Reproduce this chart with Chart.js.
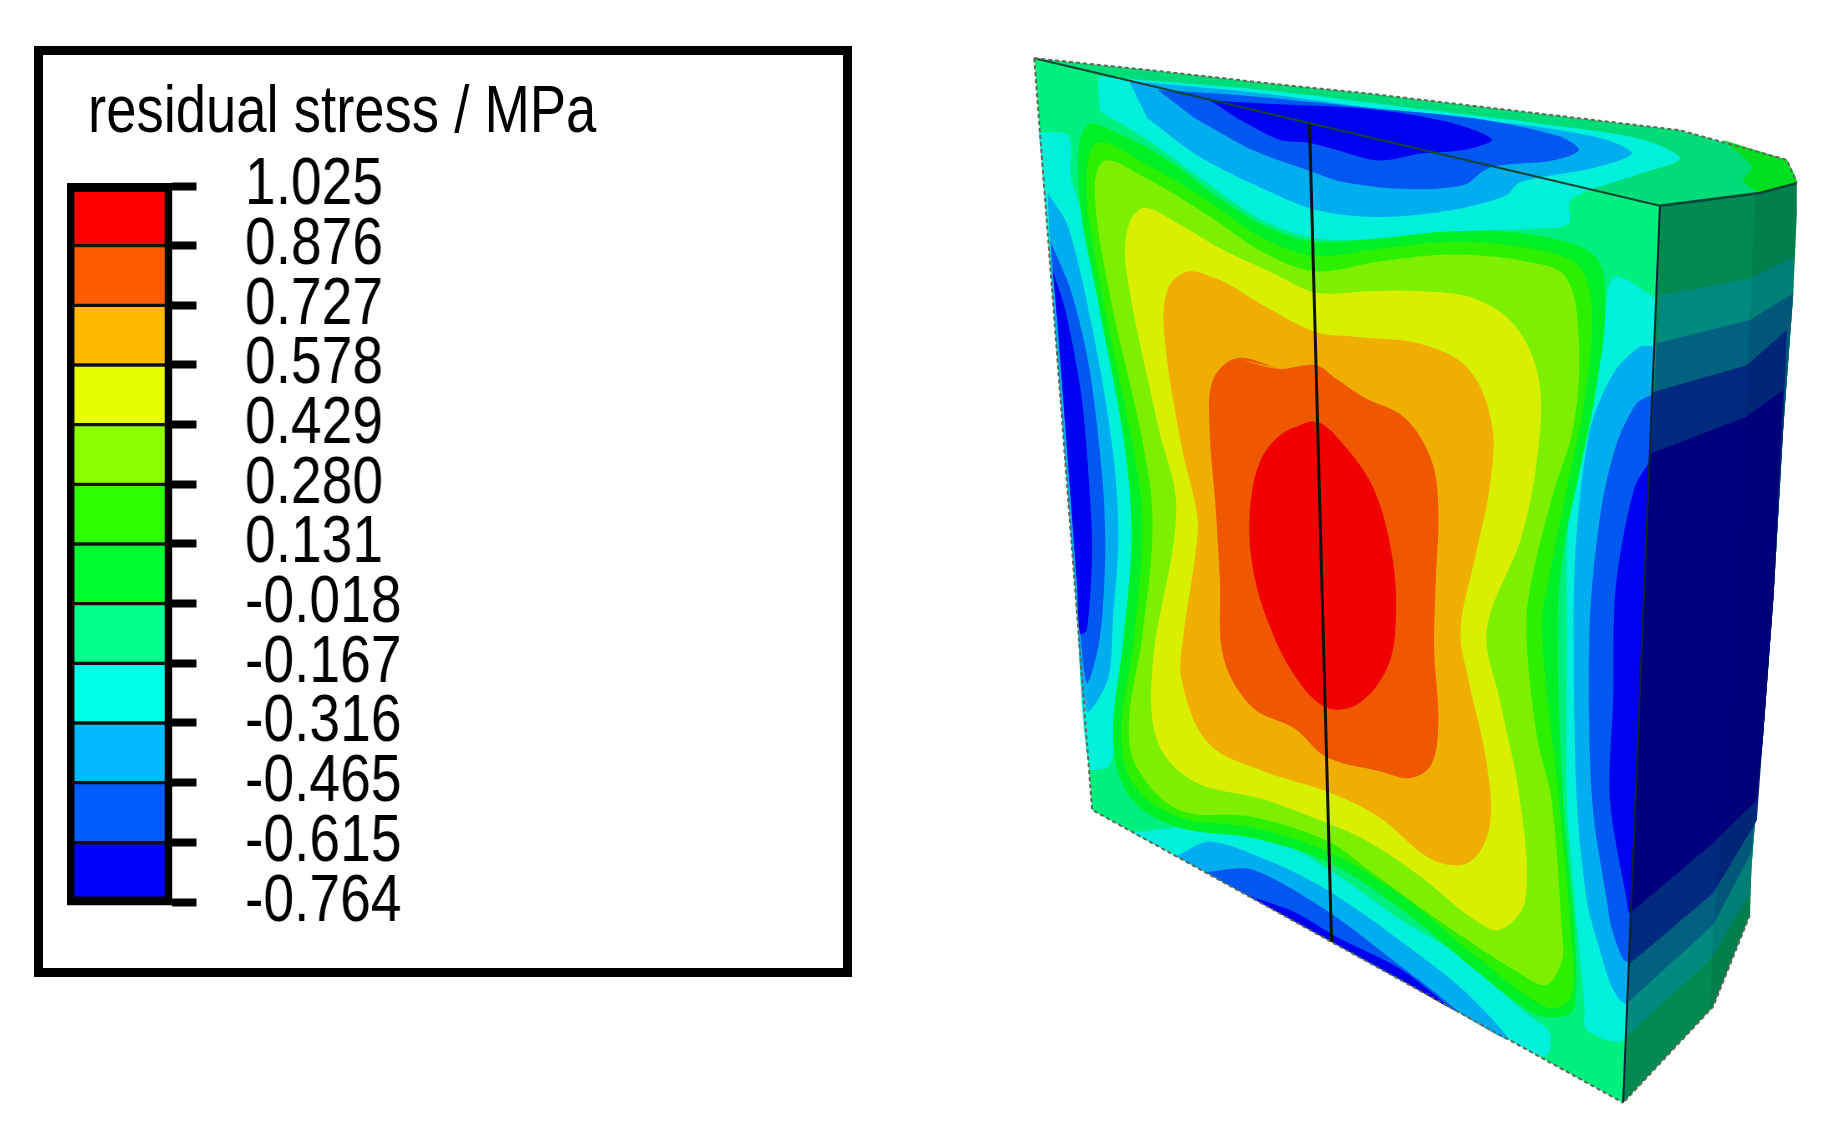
<!DOCTYPE html>
<html>
<head>
<meta charset="utf-8">
<title>residual stress</title>
<script src="https://cdn.jsdelivr.net/npm/chart.js@4"></script>
<style>
html, body { margin: 0; background: #fff; }
body { width: 1821px; height: 1131px; position: relative; overflow: hidden; }
#frame { position: absolute; left: 34px; top: 46px; width: 800px; height: 913px; border: 9px solid #000; }
#legendTitle { position: absolute; left: 88px; top: 71px; font: 66px/76px "Liberation Sans", sans-serif; color: #000; white-space: nowrap; transform: scaleX(0.825); transform-origin: left top; }
/* ラベルが細長い書体なので横方向だけ縮める */
#legendChart { position: absolute; left: 0; top: 0; transform: scaleX(0.836); transform-origin: left top; }
#modelChart { position: absolute; left: 1000px; top: 30px; filter: blur(0.7px); }
</style>
</head>
<body>
<div id="frame"></div>
<canvas id="legendChart" width="1000" height="1000"></canvas>
<div id="legendTitle">residual stress / MPa</div>
<canvas id="modelChart" width="821" height="1101"></canvas>
<script>
// legend
const legendLevels = [1.025, 0.876, 0.727, 0.578, 0.429, 0.280, 0.131, -0.018, -0.167, -0.316, -0.465, -0.615, -0.764];
const legendColors = ['#ff0000', '#ff5d00', '#ffb900', '#e8ff00', '#8bff00', '#2eff00', '#00ff2e', '#00ff8b', '#00ffe8', '#00b9ff', '#005dff', '#0000ff'];

// contour outlines
const topFace = [[65,40],[300,58],[540,78],[700,90],[1100,125],[1292,142],[1495,184],[1514,217],[1444,231],[1254,249]];
const topCorner = [[1374,156],[1429,194],[1412,213],[1444,231],[1514,217],[1495,184]];
const rightFace = [[1254,249],[1444,231],[1514,217],[1514,260],[1507,378],[1488,567],[1470,800],[1450,1000],[1438,1091],[1428,1186],[1425,1254],[1355,1384],[1184,1520]];
const rightBand1 = [[1254,376],[1425,352],[1507,322],[1507,378],[1488,567],[1470,800],[1450,1000],[1438,1091],[1428,1186],[1425,1223],[1349,1318],[1188,1427]];
const rightBand2 = [[1248,444],[1425,411],[1507,373],[1488,567],[1470,800],[1450,1000],[1438,1091],[1428,1165],[1355,1268],[1191,1379]];
const rightBand3 = [[1241,513],[1419,475],[1495,425],[1488,567],[1470,800],[1450,1000],[1438,1120],[1355,1223],[1193,1325]];
const rightBand4 = [[1236,600],[1419,548],[1488,510],[1470,800],[1450,1000],[1438,1091],[1355,1152],[1197,1251]];
const rightStrip = [[1435,233],[1444,231],[1514,217],[1514,260],[1507,378],[1488,567],[1470,800],[1450,1000],[1438,1091],[1428,1186],[1425,1254],[1349,1393],[1355,1271],[1390,1000],[1415,570],[1425,400]];
const frontFace = [[65,40],[1254,249],[1184,1520],[175,1105]];

const cyanLeft = [[74,145],[130,150],[135,210],[170,290],[205,440],[245,600],[250,720],[240,830],[225,950],[210,1040],[170,1045],[144,800],[119,560],[92,300]];
const blueLeft1 = [[90,230],[130,280],[180,440],[215,600],[225,720],[215,830],[205,920],[165,965],[144,800],[119,560],[100,370]];
const blueLeft2 = [[96,300],[135,370],[170,480],[195,640],[200,740],[190,860],[165,925],[148,800],[124,560],[105,380]];
const blueLeft3 = [[100,340],[125,400],[155,520],[170,650],[175,740],[165,850],[152,855],[146,780],[124,560],[110,420]];

const cyanTop = [[185,66],[500,85],[800,112],[1050,135],[1220,155],[1292,182],[1210,205],[1085,240],[1080,275],[1000,282],[880,285],[760,295],[600,295],[500,270],[400,220],[280,155],[190,115]];
const blueTop1 = [[245,72],[500,90],[800,120],[1000,135],[1150,155],[1201,175],[1130,195],[990,215],[960,235],[860,255],[720,265],[600,255],[500,225],[380,180],[280,125]];
const blueTop2 = [[300,85],[450,92],[700,110],[900,125],[1060,150],[1100,170],[1050,185],[930,195],[880,220],[760,225],[650,215],[590,200],[480,170],[370,125]];
const blueTop3 = [[400,100],[520,105],[700,112],[850,130],[935,155],[880,170],[800,175],[720,185],[640,170],[590,160],[530,155],[450,125]];

const cyanBottom = [[250,1137],[340,1130],[480,1130],[625,1190],[760,1260],[870,1310],[1000,1393],[1045,1421],[1035,1455],[900,1400],[770,1350],[640,1296],[520,1247],[400,1197],[300,1156]];
const blueBottom1 = [[335,1171],[400,1150],[520,1180],[625,1220],[760,1290],[880,1360],[965,1430],[850,1383],[770,1350],[640,1296],[520,1247],[400,1197]];
const blueBottom2 = [[390,1193],[480,1190],[625,1250],[750,1320],[870,1391],[760,1345],[640,1296],[520,1247],[440,1214]];
const blueBottom3 = [[470,1226],[560,1250],[640,1285],[760,1330],[850,1383],[760,1345],[640,1296],[560,1263]];

const cyanRight = [[1253,383],[1166,350],[1146,435],[1102,567],[1078,720],[1077,850],[1077,1091],[1092,1233],[1111,1384],[1115,1417],[1188,1430],[1260,1300],[1280,900],[1280,500]];
const blueRight1 = [[1250,449],[1216,449],[1166,486],[1121,567],[1095,720],[1090,850],[1096,1091],[1115,1233],[1140,1304],[1165,1360],[1191,1379],[1260,1300],[1280,900],[1280,500]];
const blueRight2 = [[1245,515],[1210,529],[1170,590],[1140,690],[1120,850],[1125,1091],[1153,1233],[1165,1280],[1193,1320],[1260,1250],[1280,900],[1280,600]];
const blueRight3 = [[1240,605],[1205,650],[1170,790],[1165,950],[1159,1091],[1191,1233],[1197,1251],[1260,1200],[1280,900],[1280,650]];

const green1 = [[165,135],[250,155],[330,190],[420,240],[510,280],[600,300],[720,295],[860,285],[1010,290],[1130,320],[1150,395],[1130,520],[1100,630],[1070,740],[1060,850],[1070,1091],[1092,1280],[1092,1384],[1070,1398],[1013,1393],[900,1330],[770,1250],[625,1180],[480,1145],[340,1130],[250,1090],[215,1010],[235,860],[250,720],[235,580],[185,380],[150,230]];
const green2 = [[185,160],[290,195],[400,245],[500,295],[600,320],[720,310],[860,300],[1010,310],[1100,335],[1125,400],[1110,530],[1080,640],[1045,770],[1030,850],[1062,1091],[1085,1280],[1085,1370],[1040,1385],[900,1310],[770,1230],[625,1165],[480,1130],[340,1115],[255,1070],[230,1000],[255,860],[270,700],[250,580],[195,380],[165,230]];
const lime = [[200,185],[290,215],[400,265],[500,315],[600,342],[720,328],[860,318],[1000,328],[1075,350],[1100,440],[1090,560],[1050,660],[1010,780],[1000,850],[1020,1000],[1048,1091],[1068,1280],[1068,1318],[1038,1353],[988,1337],[830,1260],[700,1190],[625,1150],[480,1115],[340,1105],[260,1045],[245,980],[270,860],[290,700],[270,580],[210,380],[180,230]];
const yellow = [[275,252],[340,275],[420,310],[520,345],[600,372],[700,370],[800,370],[900,380],[980,420],[1025,500],[1020,610],[990,720],[925,850],[950,950],[988,1091],[998,1233],[950,1275],[900,1260],[800,1200],[700,1150],[625,1125],[500,1090],[370,1065],[300,1010],[290,900],[335,680],[300,560],[240,340],[245,275]];
const amber = [[360,342],[420,355],[500,390],[600,428],[680,435],[800,445],[890,480],[935,560],[930,650],[905,740],[875,850],[890,920],[925,1040],[930,1130],[890,1180],[820,1175],[720,1115],[625,1080],[500,1050],[395,1010],[345,920],[350,850],[370,750],[375,690],[345,590],[312,430],[320,365]];
const orange = [[450,465],[530,480],[600,475],[640,495],[690,520],[770,550],[820,610],[833,680],[828,780],[825,880],[833,980],[820,1040],[780,1060],[720,1050],[620,1030],[560,990],[480,960],[425,890],[418,780],[410,680],[398,560],[405,495]];
const red = [[600,555],[540,570],[495,610],[475,680],[480,760],[510,840],[560,915],[620,960],[680,955],[735,905],[752,840],[745,745],[710,650],[650,585]];

const seamLine = [[588,130],[630,1292]];
const topEdge = [[65,40],[1254,249]];
const rightEdge = [[1254,249],[1184,1520]];
const rimEdge = [[1254,249],[1444,231],[1514,217]];
const leftEdge = [[65,40],[175,1105],[1184,1520]];
const backEdge = [[65,40],[300,58],[540,78],[700,90],[1100,125],[1292,142],[1495,184],[1514,217]];
const cornerEdge = [[1425,1254],[1355,1384],[1184,1520]];

// 閉じた輪郭は先頭2点を足して継ぎ目の角を消す
function closeLoop(list) {
    return list.concat(list.slice(0, 2));
}

// 塗りの順番は奥から手前
const fills = [
    [topFace, '#00dc78', 0],
    [topCorner, '#00e020', 0.2],
    [frontFace, '#00f080', 0],
    [cyanLeft, '#00f0dc', 0.3],
    [cyanTop, '#00f0dc', 0.3],
    [cyanBottom, '#00f0dc', 0.3],
    [cyanRight, '#00f0dc', 0.3],
    [blueLeft1, '#00aef0', 0.3],
    [blueTop1, '#00aef0', 0.3],
    [blueBottom1, '#00aef0', 0.3],
    [blueRight1, '#00aef0', 0.3],
    [blueLeft2, '#0058f0', 0.3],
    [blueTop2, '#0058f0', 0.3],
    [blueBottom2, '#0058f0', 0.3],
    [blueRight2, '#0058f0', 0.3],
    [blueLeft3, '#0000f0', 0.3],
    [blueTop3, '#0000f0', 0.3],
    [blueBottom3, '#0000f0', 0.3],
    [blueRight3, '#0000f0', 0.3],
    [closeLoop(green1), '#00f028', 0.35],
    [closeLoop(green2), '#2cf000', 0.35],
    [closeLoop(lime), '#7cf000', 0.35],
    [closeLoop(yellow), '#d8f000', 0.35],
    [closeLoop(amber), '#f0ae00', 0.35],
    [closeLoop(orange), '#f05800', 0.35],
    [closeLoop(red), '#f00000', 0.35],
    [rightFace, '#008a50', 0],
    [rightBand1, '#008a80', 0],
    [rightBand2, '#006080', 0],
    [rightBand3, '#002a80', 0],
    [rightBand4, '#00007f', 0],
    [rightStrip, 'rgba(0,0,40,0.08)', 0]
];
const lines = [
    [seamLine, '#111', 3, []],
    [topEdge, '#143', 2, []],
    [rightEdge, '#123', 2, []],
    [rimEdge, '#043', 2.5, []],
    [leftEdge, '#665', 2, [4, 3]],
    [backEdge, '#665', 2, [4, 3]],
    [cornerEdge, '#665', 2, [4, 3]]
];

function toPoints(list) {
    return list.map(p => ({ x: p[0], y: p[1] }));
}

// legend chart
const bandSets = legendColors.map((color, i) => ({
    data: [[legendLevels[i + 1], legendLevels[i]]],
    backgroundColor: color,
    borderColor: '#111',
    borderWidth: 2,
    borderSkipped: false,
    grouped: false,
    barPercentage: 1,
    categoryPercentage: 1
}));
bandSets.unshift({
    data: [[legendLevels[12], legendLevels[0]]],
    backgroundColor: 'rgba(0,0,0,0)',
    borderColor: '#000',
    borderWidth: 3,
    borderSkipped: false,
    inflateAmount: 3,
    clip: false,
    grouped: false,
    barPercentage: 1,
    categoryPercentage: 1
});

new Chart(document.getElementById('legendChart'), {
    type: 'bar',
    data: { labels: [''], datasets: bandSets },
    options: {
        responsive: false,
        animation: false,
        devicePixelRatio: 1,
        layout: { padding: { left: 83, top: 186, bottom: 92, right: 0 } },
        plugins: { legend: { display: false }, tooltip: { enabled: false } },
        scales: {
            x: { display: false },
            y: {
                position: 'right',
                min: legendLevels[12],
                max: legendLevels[0],
                afterFit: s => { s.width = 797; },
                afterBuildTicks: s => { s.ticks = legendLevels.map(v => ({ value: v })); },
                grid: { drawOnChartArea: false, drawTicks: true, tickLength: 32, tickWidth: 8, tickColor: '#000' },
                border: { display: true, color: '#000', width: 6 },
                ticks: {
                    autoSkip: false,
                    padding: 58,
                    labelOffset: 0,
                    color: '#000',
                    font: { family: '"Liberation Sans", sans-serif', size: 66 },
                    callback: v => v.toFixed(3)
                }
            }
        }
    }
});

// model chart
const modelSets = [];
fills.forEach((f, i) => {
    modelSets.push({
        data: toPoints(f[0]),
        showLine: true,
        fill: 'shape',
        backgroundColor: f[1],
        borderWidth: 0,
        pointRadius: 0,
        tension: f[2],
        order: 100 - i
    });
});
lines.forEach((l, i) => {
    modelSets.push({
        data: toPoints(l[0]),
        showLine: true,
        fill: false,
        borderColor: l[1],
        borderWidth: l[2],
        borderDash: l[3],
        pointRadius: 0,
        order: 50 - i
    });
});

new Chart(document.getElementById('modelChart'), {
    type: 'scatter',
    data: { datasets: modelSets },
    options: {
        responsive: false,
        animation: false,
        devicePixelRatio: 1,
        plugins: { legend: { display: false }, tooltip: { enabled: false } },
        scales: {
            x: { display: false, min: 0, max: 1560 },
            y: { display: false, min: 0, max: 1560, reverse: true }
        }
    }
});
</script>
</body>
</html>
